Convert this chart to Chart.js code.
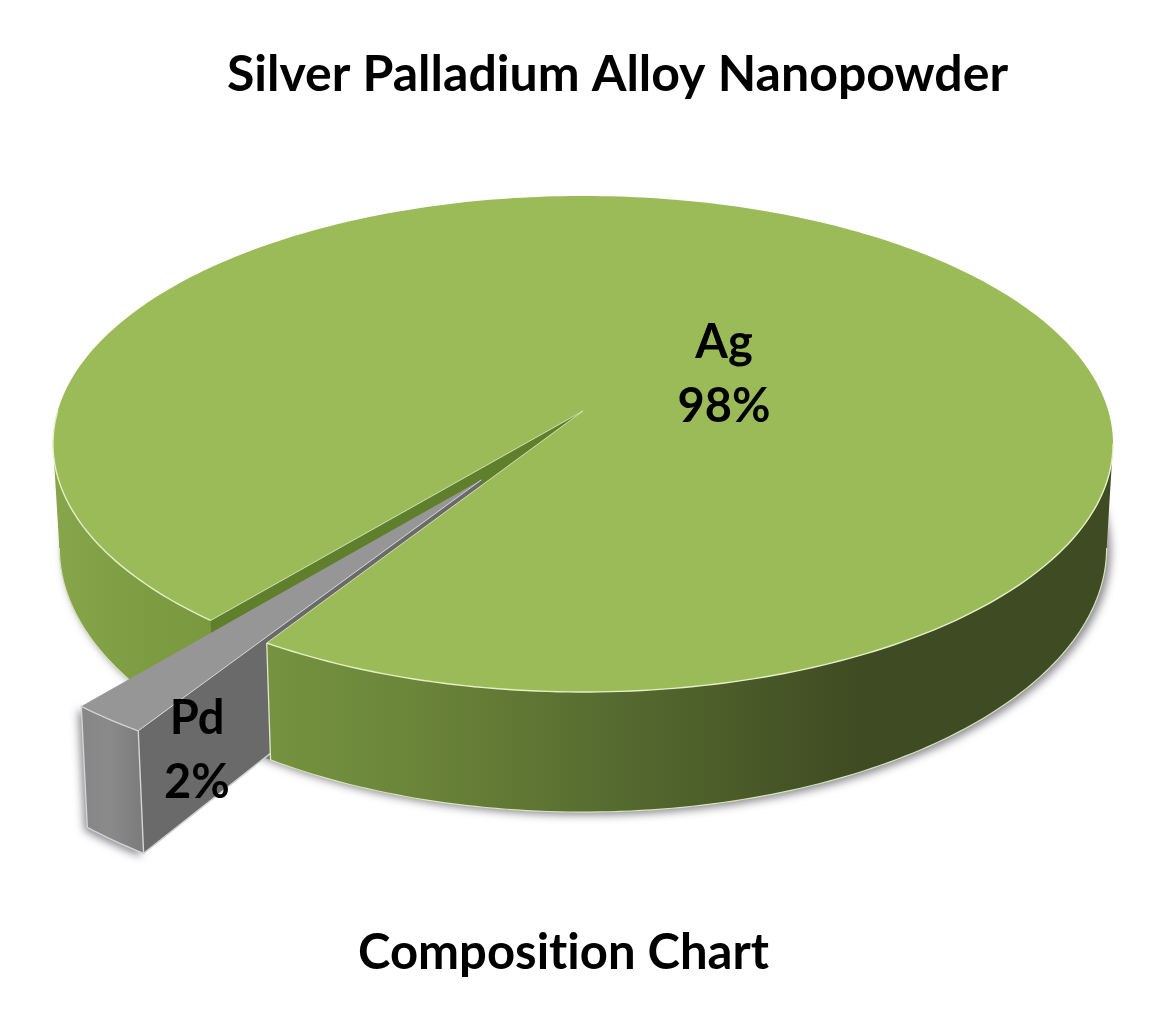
<!DOCTYPE html>
<html>
<head>
<meta charset="utf-8">
<title>Silver Palladium Alloy Nanopowder</title>
<script src="https://cdn.jsdelivr.net/npm/chart.js@4"></script>
<style>
  html, body { margin: 0; background: #fff; }
  canvas { display: block; filter: blur(0.4px); }
</style>
</head>
<body>
<canvas id="myChart" width="1153" height="1021"></canvas>
<script>
// dane
const categories = ['Ag', 'Pd'];
const values = [98, 2];
const chartTitle = 'Silver Palladium Alloy Nanopowder';
const chartSubtitle = 'Composition Chart';

const labelFont = 'bold 47px Lato';
const rad = Math.PI / 180;

// perspektywa dysku: kolo o promieniu 1 -> ekran
const persp = { a: 243.6, A: 525.3, p: 0.133 };
// kat, przy ktorym krawedz dysku jest najszersza na ekranie
const tangent = Math.asin(persp.p);

function project(el, X, Y) {
  const s = 1 / (1 - persp.p * Y);
  return { x: el.x + persp.A * X * s, y: el.y + persp.a * Y * s };
}

// ten sam punkt na dolnej krawedzi walca
function lower(el, pt) {
  const dy = pt.y - el.y;
  return { x: el.x + (pt.x - el.x) * 0.988, y: pt.y + 104 + (dy - 33) * 0.065 };
}

function polar(el, angle, r, pull, dir) {
  const X = r * Math.cos(angle) + pull * Math.cos(dir);
  const Y = r * Math.sin(angle) + pull * Math.sin(dir);
  return project(el, X, Y);
}

function arcPoints(el, from, to, pull, dir) {
  const pts = [];
  const n = Math.max(2, Math.ceil(Math.abs(to - from) / rad));
  for (let i = 0; i <= n; i++) {
    pts.push(polar(el, from + (to - from) * i / n, 1, pull, dir));
  }
  return pts;
}

function tracePoly(ctx, pts) {
  ctx.beginPath();
  pts.forEach((p, i) => i ? ctx.lineTo(p.x, p.y) : ctx.moveTo(p.x, p.y));
  ctx.closePath();
}

function band(el, pts) {
  return pts.concat(pts.map(p => lower(el, p)).reverse());
}

function fillPoly(ctx, pts, fill, stroke, lw) {
  tracePoly(ctx, pts);
  ctx.fillStyle = fill;
  ctx.fill();
  if (stroke) {
    ctx.strokeStyle = stroke;
    ctx.lineWidth = lw || 1.3;
    ctx.stroke();
  }
}

function strokeLine(ctx, pts, color, lw) {
  ctx.beginPath();
  pts.forEach((p, i) => i ? ctx.lineTo(p.x, p.y) : ctx.moveTo(p.x, p.y));
  ctx.strokeStyle = color;
  ctx.lineWidth = lw;
  ctx.stroke();
}

const pie3d = {
  id: 'pie3d',
  afterLayout(chart, args, opts) {
    // tytuly nie sa wysrodkowane w oryginale
    chart.boxes.forEach(b => {
      if (!b.options || !b.options.text) return;
      const want = b.position === 'top' ? opts.titleX : opts.subtitleX;
      const dx = want - (b.left + b.right) / 2;
      b.left += dx;
      b.right += dx;
    });
  },
  beforeDraw(chart) {
    // bez ligatury "ti" w Lato
    chart.ctx.letterSpacing = '0.01px';
  },
  beforeDatasetsDraw(chart, args, opts) {
    const ctx = chart.ctx;
    const meta = chart.getDatasetMeta(0);
    const ag = meta.data[0];
    const pd = meta.data[1];
    const pdDir = (pd.startAngle + pd.endAngle) / 2 + opts.pullTurn * rad;
    const pull = opts.pull[1];
    const agStart = ag.startAngle;
    const agEnd = ag.endAngle;
    const center = { x: ag.x, y: ag.y };

    const pdArc = arcPoints(pd, pd.startAngle, pd.endAngle, pull, pdDir);
    const pdTip = polar(pd, 0, 0, pull, pdDir);
    const full = arcPoints(ag, 0, Math.PI * 2, 0, 0);

    // cien pod spodem
    ctx.save();
    ctx.shadowColor = 'rgba(40,40,50,0.55)';
    ctx.shadowBlur = 9;
    ctx.shadowOffsetX = 4;
    ctx.shadowOffsetY = 3;
    fillPoly(ctx, full.map(p => lower(ag, p)), '#777');
    ctx.shadowOffsetX = -3;
    fillPoly(ctx, band(pd, pdArc.slice()), '#777');
    ctx.restore();

    // lewy bok Ag
    const leftSide = arcPoints(ag, agStart, Math.PI - tangent, 0, 0);
    const leftGrad = ctx.createLinearGradient(55, 0, 215, 0);
    leftGrad.addColorStop(0, '#87a64b');
    leftGrad.addColorStop(0.6, '#7d9c41');
    leftGrad.addColorStop(1, '#7b983f');
    fillPoly(ctx, band(ag, leftSide), leftGrad);
    strokeLine(ctx, leftSide.map(p => lower(ag, p)), '#d8e4bd', 1.2);

    // sciana wyciecia Ag
    const cut = polar(ag, agStart, 1, 0, 0);
    fillPoly(ctx, band(ag, [center, cut]), '#5f7f2c');

    // Pd: sciana boczna, czolo, gora
    const pdOuterR = pdArc[0];
    const pdOuterL = pdArc[pdArc.length - 1];
    const pdFill = pd.options.backgroundColor;
    fillPoly(ctx, band(pd, [pdTip, pdOuterR]), '#6a6a6a');
    strokeLine(ctx, [lower(pd, pdOuterR), lower(pd, pdTip)], '#d4d4d4', 1.4);
    const frontGrad = ctx.createLinearGradient(pdOuterL.x, 0, pdOuterR.x, 0);
    frontGrad.addColorStop(0, '#868686');
    frontGrad.addColorStop(0.5, '#8a8a8a');
    frontGrad.addColorStop(1, '#7d7d7d');
    fillPoly(ctx, band(pd, pdArc), frontGrad, '#d4d4d4', 1.4);
    fillPoly(ctx, [pdTip].concat(pdArc), pdFill);
    strokeLine(ctx, [pdOuterL].concat(pdArc.slice().reverse(), [pdTip]), '#d8d8d8', 1);

    // prawy bok Ag
    const rightSide = arcPoints(ag, tangent, agEnd - Math.PI * 2, 0, 0);
    const rightGrad = ctx.createLinearGradient(265, 0, 860, 0);
    rightGrad.addColorStop(0, '#759340');
    rightGrad.addColorStop(0.25, '#6b8539');
    rightGrad.addColorStop(0.6, '#556a2f');
    rightGrad.addColorStop(1, '#3f4b22');
    fillPoly(ctx, band(ag, rightSide), rightGrad);
    strokeLine(ctx, rightSide.map(p => lower(ag, p)), '#d8e4bd', 1.2);
    const rightCorner = rightSide[rightSide.length - 1];
    strokeLine(ctx, [rightCorner, lower(ag, rightCorner)], '#dfe8c8', 1.3);

    // gora Ag
    const topArc = arcPoints(ag, agStart, agEnd, 0, 0);
    fillPoly(ctx, [center].concat(topArc), ag.options.backgroundColor);
    strokeLine(ctx, rightSide, '#e4f0c8', 1.4);
    strokeLine(ctx, [rightCorner, center, cut], '#e4f0c8', 0.8);
    strokeLine(ctx, arcPoints(ag, agStart, 180 * rad, 0, 0), '#e4f0c8', 1.4);

    // etykiety
    ctx.fillStyle = '#000';
    ctx.font = labelFont;
    ctx.textAlign = 'center';
    ctx.textBaseline = 'middle';
    meta.data.forEach((el, i) => {
      const pos = opts.labelPos[i];
      ctx.fillText(categories[i], pos.x, pos.y);
      ctx.fillText(values[i] + '%', pos.x, pos.y + 64);
    });
    return false;
  }
};

new Chart(document.getElementById('myChart'), {
  type: 'pie',
  data: {
    labels: categories,
    datasets: [{
      data: values,
      backgroundColor: ['#9bbb59', '#969696'],
      borderWidth: 0
    }]
  },
  plugins: [pie3d],
  options: {
    responsive: false,
    animation: false,
    rotation: 219.5,
    layout: { padding: { left: 13 } },
    plugins: {
      legend: { display: false },
      tooltip: { enabled: false },
      title: {
        display: true,
        text: chartTitle,
        color: '#000',
        font: { family: 'Lato', size: 50, weight: 'bold' },
        padding: { top: 45, bottom: 21 }
      },
      subtitle: {
        display: true,
        text: chartSubtitle,
        position: 'bottom',
        color: '#000',
        font: { family: 'Lato', size: 49, weight: 'bold' },
        padding: { top: 227.6, bottom: 38.6 }
      },
      pie3d: {
        pull: [0, 0.33],
        pullTurn: -1.5,
        titleX: 617.5,
        subtitleX: 563.5,
        labelPos: [{ x: 724, y: 343 }, { x: 197, y: 719 }]
      }
    }
  }
});
</script>
</body>
</html>
